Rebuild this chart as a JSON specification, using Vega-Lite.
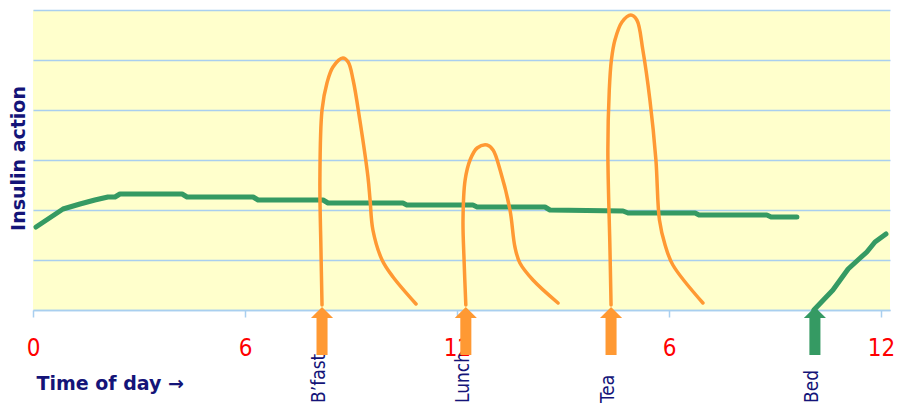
{
  "$schema": "https://vega.github.io/schema/vega-lite/v6.json",
  "width": 857,
  "height": 300,
  "autosize": {"type": "none"},
  "padding": {"left": 33, "top": 10, "right": 7, "bottom": 97},
  "background": "white",
  "config": {"view": {"fill": "#FFFFCC", "stroke": null}},
  "datasets": {
    "insulin": [
      {"seg": "A", "hour": 0.085, "level": 1.66},
      {"seg": "A", "hour": 0.85, "level": 2.02},
      {"seg": "A", "hour": 1.33, "level": 2.12},
      {"seg": "A", "hour": 1.75, "level": 2.2},
      {"seg": "A", "hour": 2.12, "level": 2.26},
      {"seg": "A", "hour": 2.32, "level": 2.26},
      {"seg": "A", "hour": 2.46, "level": 2.32},
      {"seg": "A", "hour": 4.22, "level": 2.32},
      {"seg": "A", "hour": 4.36, "level": 2.26},
      {"seg": "A", "hour": 6.23, "level": 2.26},
      {"seg": "A", "hour": 6.37, "level": 2.2},
      {"seg": "A", "hour": 8.21, "level": 2.2},
      {"seg": "A", "hour": 8.35, "level": 2.14},
      {"seg": "A", "hour": 10.47, "level": 2.14},
      {"seg": "A", "hour": 10.58, "level": 2.1},
      {"seg": "A", "hour": 12.45, "level": 2.1},
      {"seg": "A", "hour": 12.57, "level": 2.06},
      {"seg": "A", "hour": 14.49, "level": 2.06},
      {"seg": "A", "hour": 14.63, "level": 2.0},
      {"seg": "A", "hour": 16.7, "level": 1.98},
      {"seg": "A", "hour": 16.84, "level": 1.94},
      {"seg": "A", "hour": 18.74, "level": 1.94},
      {"seg": "A", "hour": 18.85, "level": 1.9},
      {"seg": "A", "hour": 20.77, "level": 1.9},
      {"seg": "A", "hour": 20.89, "level": 1.86},
      {"seg": "A", "hour": 21.62, "level": 1.86},
      {"seg": "B", "hour": 22.1, "level": 0.0},
      {"seg": "B", "hour": 22.64, "level": 0.4},
      {"seg": "B", "hour": 23.07, "level": 0.82},
      {"seg": "B", "hour": 23.41, "level": 1.04},
      {"seg": "B", "hour": 23.6, "level": 1.16},
      {"seg": "B", "hour": 23.83, "level": 1.36},
      {"seg": "B", "hour": 24.14, "level": 1.52}
    ],
    "meals": [
      {"meal": "bfast", "i": 1, "hour": 8.18, "level": 0.1},
      {"meal": "bfast", "i": 2, "hour": 8.15, "level": 1.2},
      {"meal": "bfast", "i": 3, "hour": 8.12, "level": 2.6},
      {"meal": "bfast", "i": 4, "hour": 8.18, "level": 4.0},
      {"meal": "bfast", "i": 5, "hour": 8.32, "level": 4.54},
      {"meal": "bfast", "i": 6, "hour": 8.49, "level": 4.86},
      {"meal": "bfast", "i": 7, "hour": 8.77, "level": 5.04},
      {"meal": "bfast", "i": 8, "hour": 8.92, "level": 4.96},
      {"meal": "bfast", "i": 9, "hour": 9.06, "level": 4.6},
      {"meal": "bfast", "i": 10, "hour": 9.25, "level": 3.8},
      {"meal": "bfast", "i": 11, "hour": 9.48, "level": 2.66},
      {"meal": "bfast", "i": 12, "hour": 9.54, "level": 2.2},
      {"meal": "bfast", "i": 13, "hour": 9.62, "level": 1.6},
      {"meal": "bfast", "i": 14, "hour": 9.88, "level": 1.0},
      {"meal": "bfast", "i": 15, "hour": 10.19, "level": 0.66},
      {"meal": "bfast", "i": 16, "hour": 10.84, "level": 0.12},
      {"meal": "lunch", "i": 1, "hour": 12.25, "level": 0.1},
      {"meal": "lunch", "i": 2, "hour": 12.2, "level": 1.0},
      {"meal": "lunch", "i": 3, "hour": 12.17, "level": 1.8},
      {"meal": "lunch", "i": 4, "hour": 12.23, "level": 2.6},
      {"meal": "lunch", "i": 5, "hour": 12.37, "level": 3.0},
      {"meal": "lunch", "i": 6, "hour": 12.57, "level": 3.24},
      {"meal": "lunch", "i": 7, "hour": 12.85, "level": 3.3},
      {"meal": "lunch", "i": 8, "hour": 13.02, "level": 3.2},
      {"meal": "lunch", "i": 9, "hour": 13.22, "level": 2.8},
      {"meal": "lunch", "i": 10, "hour": 13.5, "level": 2.0},
      {"meal": "lunch", "i": 11, "hour": 13.64, "level": 1.26},
      {"meal": "lunch", "i": 12, "hour": 13.78, "level": 0.94},
      {"meal": "lunch", "i": 13, "hour": 14.15, "level": 0.6},
      {"meal": "lunch", "i": 14, "hour": 14.86, "level": 0.14},
      {"meal": "tea", "i": 1, "hour": 16.36, "level": 0.1},
      {"meal": "tea", "i": 2, "hour": 16.33, "level": 1.2},
      {"meal": "tea", "i": 3, "hour": 16.27, "level": 3.2},
      {"meal": "tea", "i": 4, "hour": 16.31, "level": 4.4},
      {"meal": "tea", "i": 5, "hour": 16.37, "level": 5.0},
      {"meal": "tea", "i": 6, "hour": 16.47, "level": 5.4},
      {"meal": "tea", "i": 7, "hour": 16.67, "level": 5.76},
      {"meal": "tea", "i": 8, "hour": 16.92, "level": 5.9},
      {"meal": "tea", "i": 9, "hour": 17.09, "level": 5.8},
      {"meal": "tea", "i": 10, "hour": 17.26, "level": 5.2},
      {"meal": "tea", "i": 11, "hour": 17.46, "level": 4.2},
      {"meal": "tea", "i": 12, "hour": 17.63, "level": 3.0},
      {"meal": "tea", "i": 13, "hour": 17.73, "level": 1.8},
      {"meal": "tea", "i": 14, "hour": 17.89, "level": 1.3},
      {"meal": "tea", "i": 15, "hour": 18.11, "level": 0.9},
      {"meal": "tea", "i": 16, "hour": 18.96, "level": 0.14}
    ],
    "events": [
      {"event": "B’fast", "kind": "meal", "hour": 8.18},
      {"event": "Lunch", "kind": "meal", "hour": 12.25},
      {"event": "Tea", "kind": "meal", "hour": 16.36},
      {"event": "Bed", "kind": "bed", "hour": 22.13}
    ]
  },
  "encoding": {
    "x": {
      "field": "hour",
      "type": "quantitative",
      "scale": {"domain": [0, 24.255], "nice": false, "zero": false},
      "axis": {
        "values": [0, 6, 12, 18, 24],
        "labelExpr": "datum.value == 18 ? '6' : datum.value == 24 ? '12' : datum.label",
        "grid": false,
        "zindex": 0,
        "domain": true,
        "domainColor": "#A9CFEF",
        "domainWidth": 1.5,
        "ticks": true,
        "tickColor": "#A9CFEF",
        "tickWidth": 1.5,
        "tickSize": 7,
        "labelColor": "#FF0000",
        "labelFont": "DejaVu Sans Condensed, DejaVu Sans",
        "labelFontSize": 24,
        "labelBaseline": "alphabetic",
        "labelPadding": 38,
        "labelOverlap": false,
        "labelFlush": false,
        "labelBound": false,
        "title": "Time of day →",
        "titleColor": "#141478",
        "titleFont": "DejaVu Sans",
        "titleFontSize": 19,
        "titleFontWeight": "bold",
        "titleAnchor": "start",
        "titleAlign": "left",
        "titleBaseline": "alphabetic",
        "titleX": 3,
        "titleY": 79
      }
    }
  },
  "layer": [
    {
      "data": {"name": "insulin"},
      "mark": {"type": "line", "color": "#359A63", "strokeWidth": 5, "strokeCap": "round", "strokeJoin": "round"},
      "encoding": {
        "y": {
          "field": "level",
          "type": "quantitative",
          "scale": {"domain": [0, 6], "nice": false},
          "axis": {
            "values": [0, 1, 2, 3, 4, 5, 6],
            "grid": true,
            "gridColor": "#A9CFEF",
            "gridWidth": 1.5,
            "domain": false,
            "ticks": false,
            "labels": false,
            "zindex": 0,
            "title": "Insulin action",
            "titleColor": "#141478",
            "titleFont": "DejaVu Sans",
            "titleFontSize": 19,
            "titleFontWeight": "bold",
            "titleAngle": 270,
            "titleAlign": "center",
            "titleBaseline": "alphabetic",
            "titleX": -9,
            "titleY": 148
          }
        },
        "detail": {"field": "seg", "type": "nominal"}
      }
    },
    {
      "data": {"name": "meals"},
      "mark": {"type": "line", "color": "#FF9933", "strokeWidth": 3.5, "strokeCap": "round", "interpolate": "catmull-rom"},
      "encoding": {
        "y": {"field": "level", "type": "quantitative"},
        "detail": {"field": "meal", "type": "nominal"},
        "order": {"field": "i", "type": "quantitative"}
      }
    },
    {
      "data": {"name": "events"},
      "mark": {"type": "text", "angle": 270, "align": "left", "baseline": "alphabetic", "dy": 3, "font": "DejaVu Sans Condensed, DejaVu Sans", "fontSize": 19, "color": "#141478"},
      "encoding": {
        "y": {"datum": -1.86, "type": "quantitative"},
        "text": {"field": "event", "type": "nominal"}
      }
    },
    {
      "data": {"name": "events"},
      "mark": {"type": "point", "shape": "M0,-1L0.46,-0.54L0.23,-0.54L0.23,1L-0.23,1L-0.23,-0.54L-0.46,-0.54Z", "size": 2304, "filled": true, "opacity": 1, "strokeWidth": 0},
      "encoding": {
        "y": {"datum": -0.42, "type": "quantitative"},
        "color": {"field": "kind", "type": "nominal", "scale": {"domain": ["meal", "bed"], "range": ["#FF9933", "#359A63"]}, "legend": null}
      }
    }
  ]
}
